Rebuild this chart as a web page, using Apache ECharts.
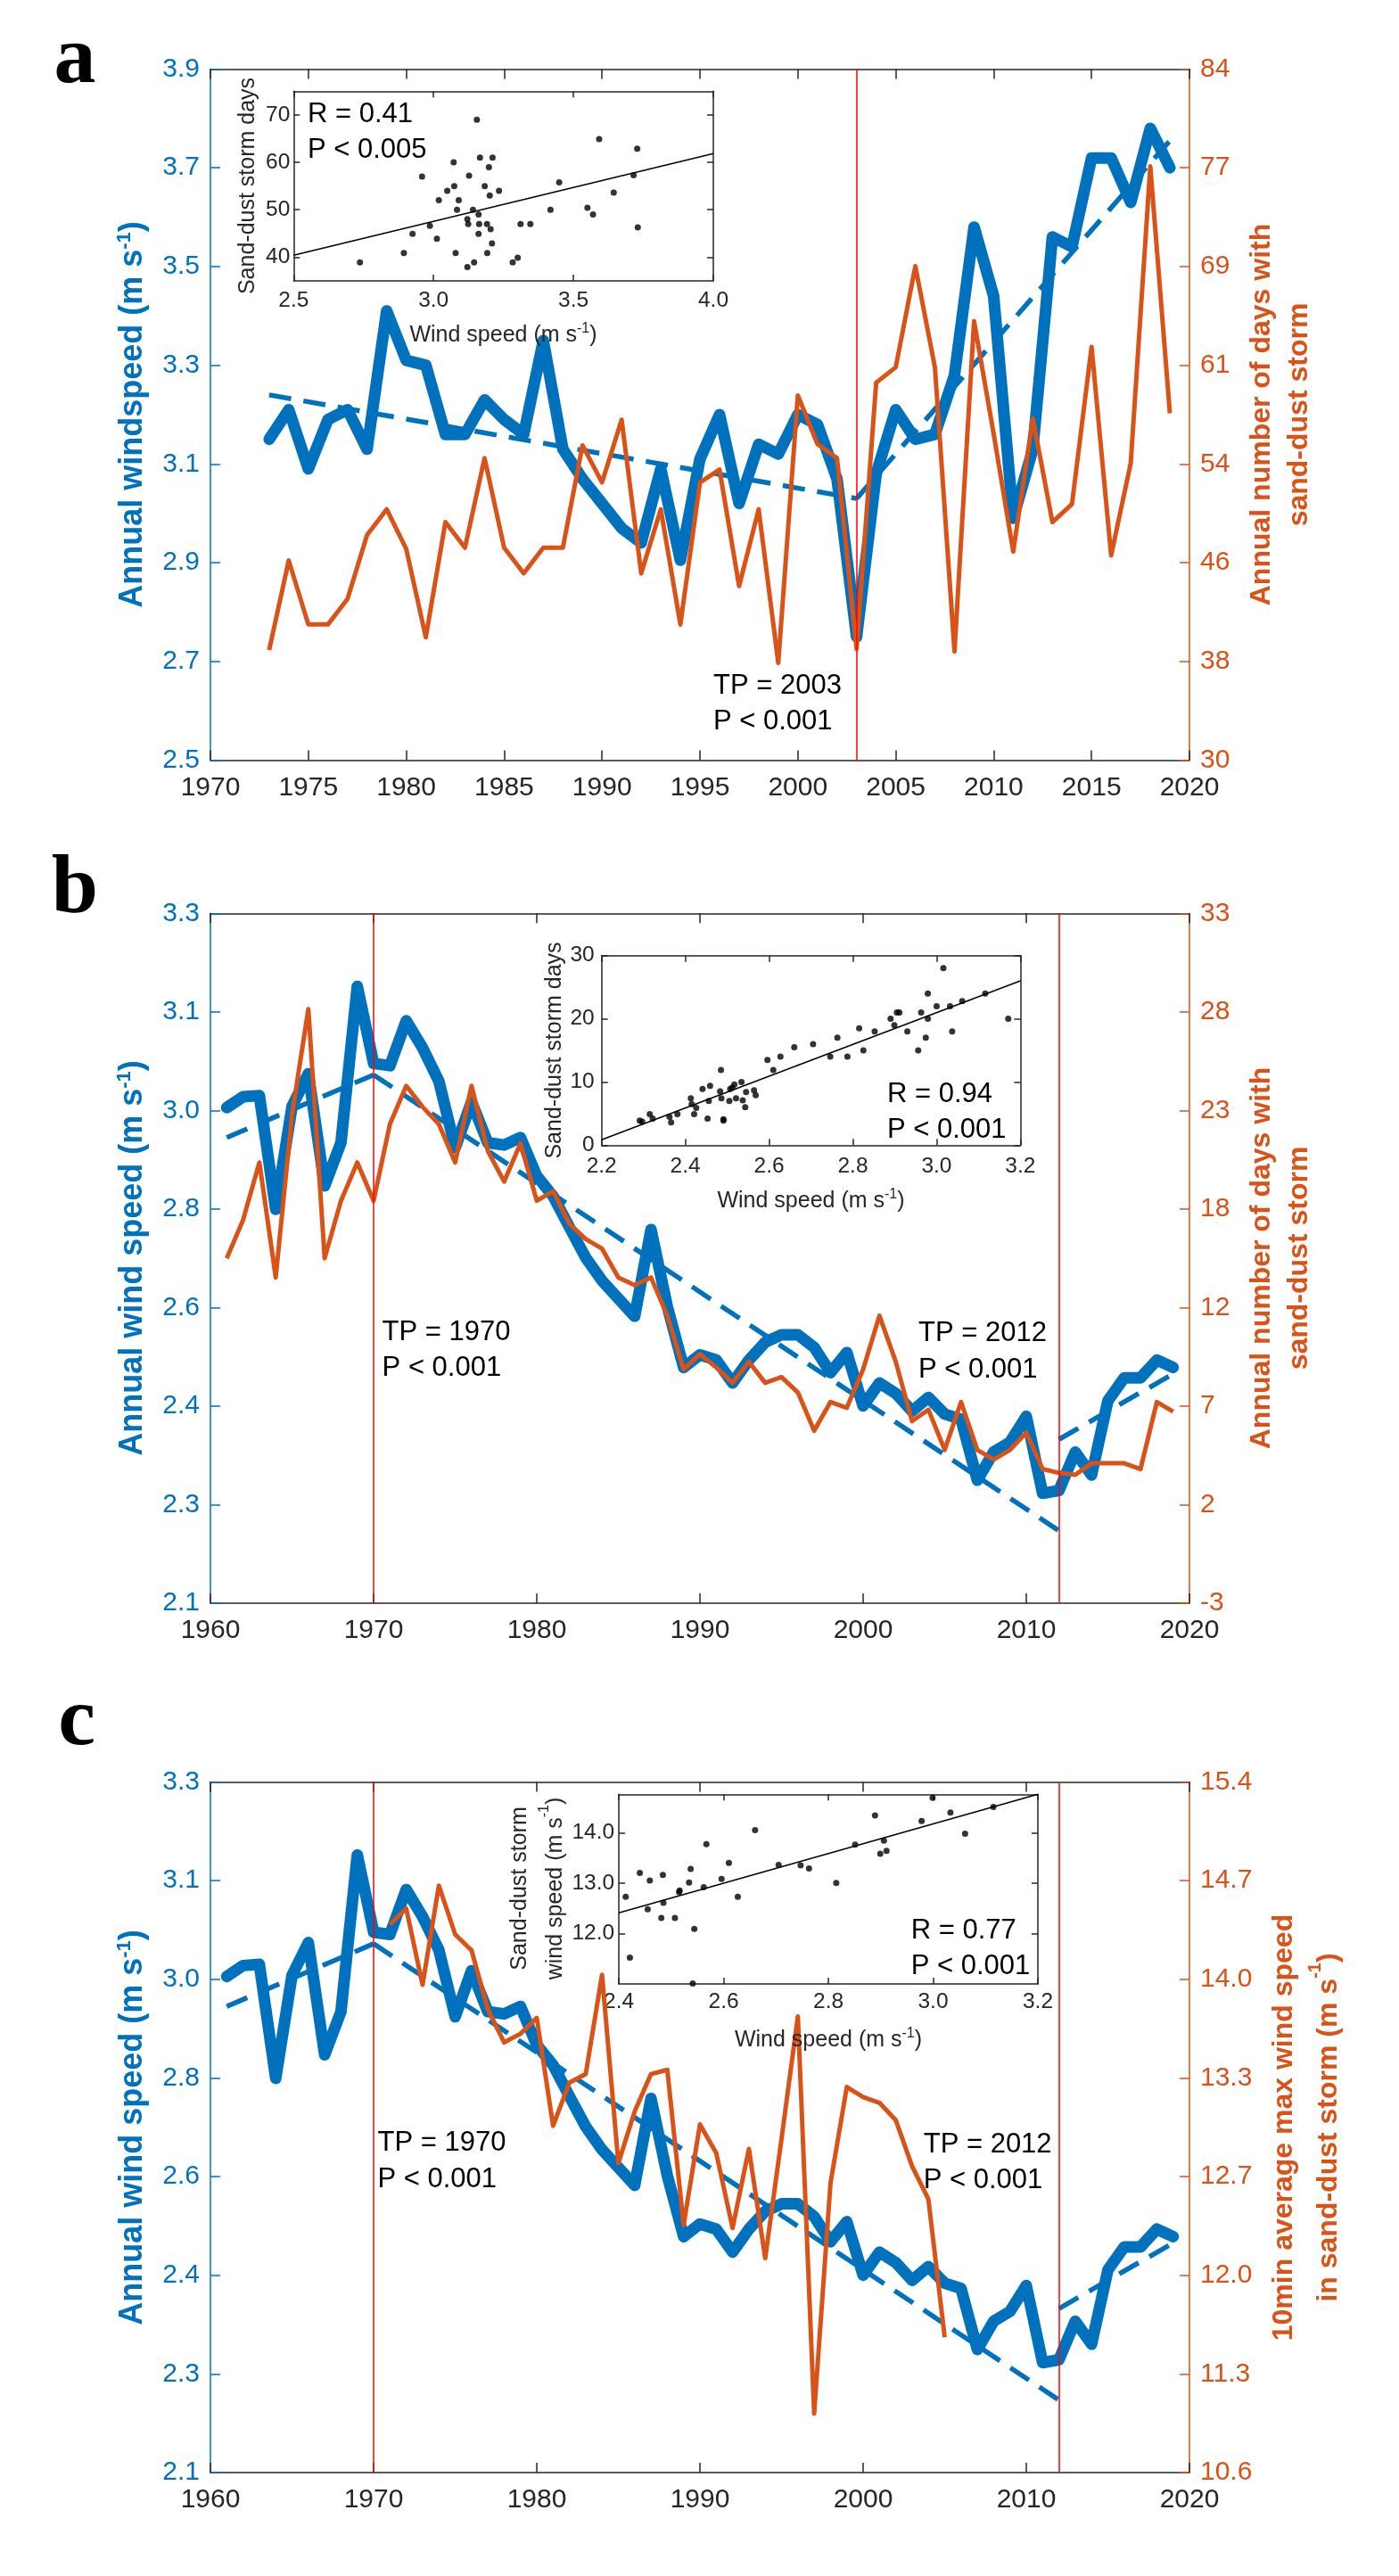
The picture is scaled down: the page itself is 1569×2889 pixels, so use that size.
<!DOCTYPE html>
<html>
<head>
<meta charset="utf-8">
<script src="https://cdn.jsdelivr.net/npm/echarts@6/dist/echarts.min.js"></script>
<style>
html,body{margin:0;padding:0;background:#fff;}
#chart{width:1569px;height:2889px;}
</style>
</head>
<body>
<div id="chart"></div>
<script>
// ---------------- DATA ----------------
// Panel a
const yearsA = [1973,1974,1975,1976,1977,1978,1979,1980,1981,1982,1983,1984,1985,1986,1987,1988,1989,1990,1991,1992,1993,1994,1995,1996,1997,1998,1999,2000,2001,2002,2003,2004,2005,2006,2007,2008,2009,2010,2011,2012,2013,2014,2015,2016,2017,2018,2019];
const windA = [3.15,3.21,3.09,3.19,3.21,3.13,3.41,3.31,3.30,3.16,3.16,3.23,3.19,3.16,3.35,3.13,3.07,3.02,2.97,2.94,3.09,2.905,3.11,3.20,3.02,3.14,3.12,3.20,3.18,3.07,2.75,3.08,3.21,3.15,3.16,3.28,3.58,3.44,2.99,3.13,3.56,3.54,3.72,3.72,3.63,3.78,3.70];
const daysA = [38.6,45.6,40.6,40.6,42.6,47.6,49.6,46.5,39.6,48.6,46.6,53.6,46.6,44.6,46.6,46.6,54.6,51.7,56.6,44.6,49.6,40.6,51.7,52.7,43.6,49.6,37.6,58.5,54.7,53.6,38.7,59.5,60.7,68.6,60.7,38.5,64.3,55.5,46.3,56.7,48.6,50.0,62.3,46.0,53.2,76.4,57.1];
const trendA1 = [[1973,3.24],[2003,3.03]];
const trendA2 = [[2003,3.03],[2019,3.755]];
const turnPointsA = [2003];

// Panel b / c (same annual wind speed series)
const yearsB = [1961,1962,1963,1964,1965,1966,1967,1968,1969,1970,1971,1972,1973,1974,1975,1976,1977,1978,1979,1980,1981,1982,1983,1984,1985,1986,1987,1988,1989,1990,1991,1992,1993,1994,1995,1996,1997,1998,1999,2000,2001,2002,2003,2004,2005,2006,2007,2008,2009,2010,2011,2012,2013,2014,2015,2016,2017,2018,2019];
const windB = [2.962,2.981,2.983,2.785,2.964,3.021,2.826,2.901,3.173,3.039,3.035,3.113,3.066,3.008,2.892,2.972,2.901,2.897,2.910,2.843,2.808,2.754,2.701,2.661,2.630,2.599,2.750,2.616,2.510,2.532,2.523,2.483,2.523,2.554,2.567,2.567,2.545,2.501,2.536,2.443,2.483,2.465,2.434,2.458,2.429,2.420,2.314,2.363,2.380,2.425,2.291,2.296,2.363,2.323,2.452,2.492,2.492,2.523,2.510];
const daysB = [15.0,17.0,20.0,14.0,22.5,28.0,15.0,18.0,20.0,18.0,22.0,24.0,22.9,22.0,20.0,24.0,20.6,19.0,21.0,18.0,18.5,16.8,16.0,15.5,14.0,13.6,14.0,12.0,9.2,10.0,9.3,8.5,9.6,8.5,8.8,8.0,6.0,7.5,7.2,9.2,12.0,9.6,6.5,7.1,5.0,7.5,5.0,4.5,5.0,5.9,4.0,3.8,3.7,4.3,4.3,4.3,4.0,7.5,7.0];
const trendB1 = [[1961,2.910],[1970,3.019]];
const trendB2 = [[1970,3.019],[2012,2.226]];
const trendB3 = [[2012,2.385],[2019,2.499]];
const turnPointsB = [1970, 2012];

const yearsC = [1971,1972,1973,1974,1975,1976,1977,1978,1979,1980,1981,1982,1983,1984,1985,1986,1987,1988,1989,1990,1991,1992,1993,1994,1995,1996,1997,1998,1999,2000,2001,2002,2003,2004,2005];
const maxWindC = [14.41,14.52,13.99,14.68,14.34,14.23,13.82,13.59,13.65,13.76,13.01,13.31,13.37,14.06,12.75,13.11,13.37,13.40,12.32,13.02,12.82,12.30,12.85,12.09,12.92,13.77,11.01,12.61,13.28,13.21,13.17,13.05,12.73,12.50,11.54];

// Insets (wind speed, y value)
const insetAPoints = [[2.737,38.9],[2.894,40.9],[2.925,44.9],[2.959,57.0],[2.987,46.6],[3.012,43.9],[3.019,52.0],[3.049,54.0],[3.072,60.0],[3.074,55.0],[3.079,40.9],[3.084,50.0],[3.090,52.0],[3.121,48.0],[3.124,47.0],[3.121,37.9],[3.127,57.2],[3.141,50.0],[3.145,38.9],[3.155,69.0],[3.161,49.0],[3.163,47.0],[3.161,44.9],[3.166,61.0],[3.183,55.0],[3.191,47.0],[3.192,40.9],[3.198,59.0],[3.201,53.0],[3.204,45.9],[3.209,42.9],[3.211,61.0],[3.234,54.0],[3.283,38.9],[3.301,39.9],[3.311,47.0],[3.346,47.0],[3.418,50.0],[3.449,55.8],[3.550,50.4],[3.570,49.0],[3.592,64.9],[3.644,53.6],[3.715,57.3],[3.728,62.9],[3.730,46.3]];
const fitA = [[2.5,40.4],[4.0,61.85]];
const insetBPoints = [[2.291,3.9],[2.297,3.7],[2.315,4.9],[2.322,4.2],[2.362,4.5],[2.366,3.6],[2.381,4.9],[2.413,7.4],[2.415,6.5],[2.421,4.9],[2.426,5.9],[2.441,8.9],[2.453,4.2],[2.456,7.0],[2.459,9.4],[2.483,8.5],[2.485,11.9],[2.486,7.4],[2.491,4.1],[2.491,3.9],[2.505,7.0],[2.507,8.9],[2.512,9.1],[2.517,9.6],[2.521,7.4],[2.534,10.0],[2.537,7.1],[2.543,6.0],[2.545,8.4],[2.564,8.7],[2.568,7.9],[2.596,13.5],[2.610,11.9],[2.627,14.0],[2.660,15.5],[2.705,16.0],[2.746,14.0],[2.763,17.0],[2.787,14.0],[2.815,18.5],[2.825,15.0],[2.852,18.0],[2.890,20.0],[2.899,19.0],[2.905,21.0],[2.911,21.0],[2.930,18.0],[2.956,15.0],[2.963,21.0],[2.974,17.0],[2.979,20.0],[2.979,24.0],[3.000,22.0],[3.016,28.0],[3.032,22.0],[3.037,18.0],[3.061,22.8],[3.116,24.0],[3.171,20.0]];
const fitB = [[2.2,0.85],[3.2,26.0]];
const insetCPoints = [[2.413,12.73],[2.421,11.52],[2.440,13.20],[2.455,12.48],[2.459,13.05],[2.481,12.31],[2.484,13.16],[2.485,12.61],[2.507,12.31],[2.515,12.82],[2.516,12.85],[2.534,13.01],[2.537,13.28],[2.544,12.09],[2.541,11.01],[2.562,12.92],[2.567,13.77],[2.596,13.08],[2.610,13.40],[2.627,12.73],[2.660,14.05],[2.705,13.36],[2.747,13.35],[2.763,13.29],[2.815,13.00],[2.851,13.76],[2.889,14.34],[2.899,13.58],[2.906,13.84],[2.911,13.64],[2.978,14.23],[2.999,14.69],[3.033,14.40],[3.061,13.98],[3.115,14.51]];
const fitC = [[2.4,12.41],[3.2,14.76]];

// Tick labels
const leftLabelsA = ['2.5','2.7','2.9','3.1','3.3','3.5','3.7','3.9'];
const rightLabelsA = ['30','38','46','54','61','69','77','84'];
const leftLabelsBC = ['2.1','2.3','2.4','2.6','2.8','3.0','3.1','3.3'];
const rightLabelsB = ['-3','2','7','12','18','23','28','33'];
const rightLabelsC = ['10.6','11.3','12.0','12.7','13.3','14.0','14.7','15.4'];
const insetATicksX = [2.5,3.0,3.5,4.0];
const insetATicksY = [40,50,60,70];
const insetBTicksX = [2.2,2.4,2.6,2.8,3.0,3.2];
const insetBTicksY = [0,10,20,30];
const insetCTicksX = [2.4,2.6,2.8,3.0,3.2];
const insetCTicksY = [12,13,14];
const insetCLabelsY = ['12.0','13.0','14.0'];

// ---------------- STYLE ----------------
const FONT = 'Liberation Sans, Arial, Helvetica, sans-serif';
const SERIF = 'Liberation Serif, Times New Roman, serif';
const BLUE = '#0072BD', ORANGE = '#D95319', RED = '#FF0000', INK = '#262626';

function evenTicks(min, max, n) {
  const a = [];
  for (let i = 0; i <= n; i++) a.push(i === 0 ? min : (i === n ? max : min + (max - min) * i / n));
  return a;
}
function labelFor(ticks, labels) {
  return function (v) {
    let best = 0, d = Infinity;
    ticks.forEach((t, i) => { const e = Math.abs(t - v); if (e < d) { d = e; best = i; } });
    return labels[best];
  };
}
function zip(xs, ys) { return xs.map((x, i) => [x, ys[i]]); }

const grids = [
  { left: 236, top: 77.5, width: 1098, height: 775 },      // 0 main a
  { left: 329.3, top: 102.3, width: 470.7, height: 212.7 }, // 1 inset a
  { left: 236, top: 1024.3, width: 1098, height: 773.7 },   // 2 main b
  { left: 674.7, top: 1071.7, width: 469.7, height: 212.6 },// 3 inset b
  { left: 236, top: 1998.5, width: 1098, height: 774.5 },   // 4 main c
  { left: 694.1, top: 2012.3, width: 469.9, height: 212.7 } // 5 inset c
];

const xAxes = [], yAxes = [];
function addX(grid, min, max, o) {
  for (const pos of ['bottom', 'top']) {
    const ax = {
      type: 'value', gridIndex: grid, min: min, max: max, position: pos,
      splitLine: { show: false },
      axisLine: { show: true, onZero: false, lineStyle: { color: INK, width: o.lw } },
      axisTick: { show: true, inside: true, length: o.tick, lineStyle: { color: INK, width: o.lw } },
      axisLabel: { show: pos === 'bottom', fontSize: o.fs, color: INK, fontFamily: FONT, margin: o.margin,
                   showMinLabel: true, showMaxLabel: true, formatter: o.fmt }
    };
    if (o.interval) { ax.interval = o.interval; }
    if (o.ticks) { ax.axisTick.customValues = o.ticks; ax.axisLabel.customValues = o.ticks; }
    xAxes.push(ax);
  }
}
function addY(grid, o) {
  for (const pos of ['left', 'right']) {
    const s = o[pos];
    const ax = {
      type: 'value', gridIndex: grid, min: s.min, max: s.max, position: pos,
      splitLine: { show: false },
      axisLine: { show: true, onZero: false, lineStyle: { color: s.line, width: o.lw } },
      axisTick: { show: true, inside: true, length: o.tick, customValues: s.ticks, lineStyle: { color: s.line, width: o.lw } },
      axisLabel: { show: !!s.labels, customValues: s.ticks, fontSize: o.fs, color: s.labelColor, fontFamily: FONT,
                   margin: o.margin, showMinLabel: true, showMaxLabel: true,
                   formatter: s.labels ? labelFor(s.ticks, s.labels) : '' }
    };
    yAxes.push(ax);
  }
}

// main a
addX(0, 1970, 2020, { lw: 1.5, tick: 11, fs: 30, margin: 16, interval: 5, fmt: v => String(v) });
addY(0, { lw: 1.5, tick: 11, fs: 30, margin: 12,
  left: { min: 2.5, max: 3.9, ticks: evenTicks(2.5, 3.9, 7), labels: leftLabelsA, line: BLUE, labelColor: BLUE },
  right: { min: 30, max: 84, ticks: evenTicks(30, 84, 7), labels: rightLabelsA, line: ORANGE, labelColor: ORANGE } });
// inset a
addX(1, 2.5, 4.0, { lw: 1.5, tick: 7, fs: 24.5, margin: 10, ticks: insetATicksX, fmt: v => v.toFixed(1) });
addY(1, { lw: 1.5, tick: 7, fs: 24.5, margin: 4,
  left: { min: 35, max: 75, ticks: insetATicksY, labels: insetATicksY.map(String), line: INK, labelColor: INK },
  right: { min: 35, max: 75, ticks: insetATicksY, labels: null, line: INK, labelColor: INK } });
// main b
addX(2, 1960, 2020, { lw: 1.5, tick: 11, fs: 30, margin: 16, interval: 10, fmt: v => String(v) });
addY(2, { lw: 1.5, tick: 11, fs: 30, margin: 12,
  left: { min: 2.1, max: 3.3, ticks: evenTicks(2.1, 3.3, 7), labels: leftLabelsBC, line: BLUE, labelColor: BLUE },
  right: { min: -3, max: 33, ticks: evenTicks(-3, 33, 7), labels: rightLabelsB, line: ORANGE, labelColor: ORANGE } });
// inset b
addX(3, 2.2, 3.2, { lw: 1.5, tick: 7, fs: 24.5, margin: 11, ticks: insetBTicksX, fmt: v => v.toFixed(1) });
addY(3, { lw: 1.5, tick: 7, fs: 24.5, margin: 8,
  left: { min: 0, max: 30, ticks: insetBTicksY, labels: insetBTicksY.map(String), line: INK, labelColor: INK },
  right: { min: 0, max: 30, ticks: insetBTicksY, labels: null, line: INK, labelColor: INK } });
// main c
addX(4, 1960, 2020, { lw: 1.5, tick: 11, fs: 30, margin: 16, interval: 10, fmt: v => String(v) });
addY(4, { lw: 1.5, tick: 11, fs: 30, margin: 12,
  left: { min: 2.1, max: 3.3, ticks: evenTicks(2.1, 3.3, 7), labels: leftLabelsBC, line: BLUE, labelColor: BLUE },
  right: { min: 10.6, max: 15.4, ticks: evenTicks(10.6, 15.4, 7), labels: rightLabelsC, line: ORANGE, labelColor: ORANGE } });
// inset c
addX(5, 2.4, 3.2, { lw: 1.5, tick: 7, fs: 24.5, margin: 8, ticks: insetCTicksX, fmt: v => v.toFixed(1) });
addY(5, { lw: 1.5, tick: 7, fs: 24.5, margin: 5,
  left: { min: 11.0, max: 14.76, ticks: insetCTicksY, labels: insetCLabelsY, line: INK, labelColor: INK },
  right: { min: 11.0, max: 14.76, ticks: insetCTicksY, labels: null, line: INK, labelColor: INK } });

// ---------------- SERIES ----------------
const series = [];
function tpMarkLine(years) {
  return { silent: true, symbol: ['none', 'none'], animation: false, label: { show: false },
           lineStyle: { color: RED, width: 1.5, type: 'solid' },
           data: years.map(y => ({ xAxis: y })) };
}
function mainWind(g, data) {
  series.push({ type: 'line', xAxisIndex: 2 * g, yAxisIndex: 2 * g, data: data, symbol: 'none', z: 2,
    lineStyle: { color: BLUE, width: 13, join: 'round', cap: 'round' } });
}
function trend(g, data) {
  series.push({ type: 'line', xAxisIndex: 2 * g, yAxisIndex: 2 * g, data: data, symbol: 'none', z: 3,
    lineStyle: { color: BLUE, width: 5.5, type: [25, 14] } });
}
function rightLine(g, data, tps) {
  series.push({ type: 'line', xAxisIndex: 2 * g, yAxisIndex: 2 * g + 1, data: data, symbol: 'none', z: 4,
    lineStyle: { color: ORANGE, width: 5, join: 'round' }, markLine: tpMarkLine(tps) });
}
function inset(g, pts, fit) {
  series.push({ type: 'scatter', xAxisIndex: 2 * g, yAxisIndex: 2 * g, data: pts, symbolSize: 7,
    itemStyle: { color: '#000' }, z: 5 });
  series.push({ type: 'line', xAxisIndex: 2 * g, yAxisIndex: 2 * g, data: fit, symbol: 'none', z: 5,
    lineStyle: { color: '#000', width: 1.5 } });
}

mainWind(0, zip(yearsA, windA));
trend(0, trendA1); trend(0, trendA2);
rightLine(0, zip(yearsA, daysA), turnPointsA);
inset(1, insetAPoints, fitA);

mainWind(2, zip(yearsB, windB));
trend(2, trendB1); trend(2, trendB2); trend(2, trendB3);
rightLine(2, zip(yearsB, daysB), turnPointsB);
inset(3, insetBPoints, fitB);

mainWind(4, zip(yearsB, windB));
trend(4, trendB1); trend(4, trendB2); trend(4, trendB3);
rightLine(4, zip(yearsC, maxWindC), turnPointsB);
inset(5, insetCPoints, fitC);

// ---------------- TEXT ----------------
const graphics = [];
function txt(x, y, text, o) {
  o = o || {};
  const st = {
    text: text, fill: o.color || '#000',
    fontSize: o.fs || 31, fontWeight: o.bold ? 'bold' : 'normal', fontFamily: o.family || FONT,
    align: o.align || 'left', textAlign: o.align || 'left',
    verticalAlign: 'middle', textVerticalAlign: 'middle'
  };
  if (o.rich) st.rich = o.rich;
  if (o.lh) st.lineHeight = o.lh;
  graphics.push({ type: 'text', x: x, y: y, rotation: o.rot || 0, silent: true, z: 100, style: st });
}
function richSet(fs, lh, color, bold, supFs, supLh) {
  return {
    n: { fontSize: fs, lineHeight: lh, fontFamily: FONT, fontWeight: bold ? 'bold' : 'normal', fill: color, color: color },
    s: { fontSize: supFs, lineHeight: supLh, fontFamily: FONT, fontWeight: bold ? 'bold' : 'normal', fill: color, color: color, verticalAlign: 'top' }
  };
}
const R90 = Math.PI / 2;

// panel letters
txt(84, 68, 'a', { fs: 94, bold: true, family: SERIF, align: 'center' });
txt(84, 999, 'b', { fs: 94, bold: true, family: SERIF, align: 'center' });
txt(86, 1932, 'c', { fs: 94, bold: true, family: SERIF, align: 'center' });

// left axis titles
txt(149, 465, '{n|Annual windspeed (m s}{s|-1}{n|)}', { rot: R90, align: 'center', rich: richSet(36, 40, BLUE, true, 22, 22) });
txt(149, 1411, '{n|Annual wind speed (m s}{s|-1}{n|)}', { rot: R90, align: 'center', rich: richSet(36, 40, BLUE, true, 22, 22) });
txt(149, 2386, '{n|Annual wind speed (m s}{s|-1}{n|)}', { rot: R90, align: 'center', rich: richSet(36, 40, BLUE, true, 22, 22) });
// right axis titles
txt(1436, 465, '{n|Annual number of days with}\n{n|sand-dust storm}', { rot: R90, align: 'center', rich: richSet(32, 42, ORANGE, true, 20, 26) });
txt(1436, 1411, '{n|Annual number of days with}\n{n|sand-dust storm}', { rot: R90, align: 'center', rich: richSet(32, 42, ORANGE, true, 20, 26) });
txt(1465, 2386, '{n|10min average max wind speed}\n{n|in sand-dust storm (m s}{s|-1}{n|)}', { rot: R90, align: 'center', rich: richSet(32, 50, ORANGE, true, 20, 34) });

// TP annotations
txt(800, 769, 'TP = 2003'); txt(800, 809, 'P < 0.001');
txt(428.6, 1494, 'TP = 1970'); txt(428.6, 1534, 'P < 0.001');
txt(1030, 1495, 'TP = 2012'); txt(1030, 1536, 'P < 0.001');
txt(423.5, 2403, 'TP = 1970'); txt(423.5, 2444, 'P < 0.001');
txt(1035.7, 2405, 'TP = 2012'); txt(1035.7, 2445, 'P < 0.001');

// inset statistics
txt(345, 128.5, 'R = 0.41'); txt(345, 168.5, 'P < 0.005');
txt(995, 1227, 'R = 0.94'); txt(995, 1267, 'P < 0.001');
txt(1021.7, 2165, 'R = 0.77'); txt(1021.7, 2205, 'P < 0.001');

// inset axis titles
txt(278, 208.5, 'Sand-dust storm days', { rot: R90, align: 'center', fs: 25, color: INK });
txt(564.5, 376, '{n|Wind speed (m s}{s|-1}{n|)}', { align: 'center', rich: richSet(25, 30, INK, false, 16, 18) });
txt(622, 1178, 'Sand-dust storm days', { rot: R90, align: 'center', fs: 25, color: INK });
txt(909.5, 1347, '{n|Wind speed (m s}{s|-1}{n|)}', { align: 'center', rich: richSet(25, 30, INK, false, 16, 18) });
txt(603, 2118, '{n|Sand-dust storm}\n{n|wind speed (m s}{s|-1}{n|)}', { rot: R90, align: 'center', rich: richSet(25, 40, INK, false, 16, 28) });
txt(929, 2288, '{n|Wind speed (m s}{s|-1}{n|)}', { align: 'center', rich: richSet(25, 30, INK, false, 16, 18) });

const chart = echarts.init(document.getElementById('chart'), null, { renderer: 'canvas' });
chart.setOption({
  animation: false,
  backgroundColor: '#ffffff',
  textStyle: { fontFamily: FONT },
  grid: grids,
  xAxis: xAxes,
  yAxis: yAxes,
  series: series,
  graphic: { elements: graphics }
});
</script>
</body>
</html>
